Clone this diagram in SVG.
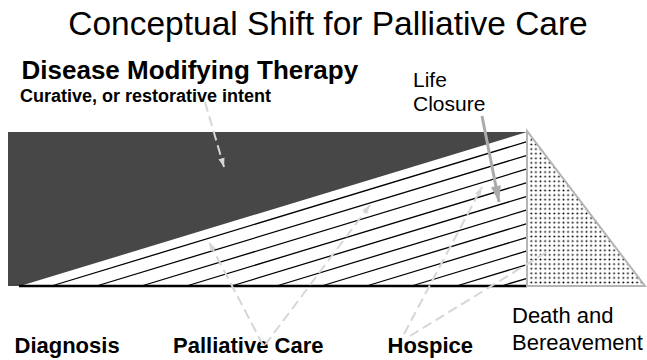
<svg xmlns="http://www.w3.org/2000/svg" width="647" height="360" viewBox="0 0 647 360">
  <style>
    .t { font-family: "Liberation Sans", Arial, sans-serif; fill: #000; }
    .b { font-weight: bold; }
    .hatch line { stroke: #000; stroke-width: 1.3; }
    .dash { fill: none; stroke: #d6d6d6; stroke-width: 2; stroke-dasharray: 10 5; }
  </style>
  <defs>
    <pattern id="dots" patternUnits="userSpaceOnUse" x="529" y="133" width="4.6" height="4.6">
      <circle cx="2.3" cy="2.3" r="0.95" fill="#000"/>
    </pattern>
    <marker id="ah" markerUnits="userSpaceOnUse" viewBox="0 0 10 7" refX="10" refY="3.5" markerWidth="9" markerHeight="7" orient="auto">
      <path d="M0,0 L10,3.5 L0,7 z" fill="#d6d6d6"/>
    </marker>
    <marker id="ahg" markerUnits="userSpaceOnUse" viewBox="0 0 16 10" refX="16" refY="5" markerWidth="17" markerHeight="10" orient="auto">
      <path d="M0,0 L16,5 L0,10 z" fill="#ababab"/>
    </marker>
  </defs>

  <rect width="647" height="360" fill="#fff"/>

  <g id="title">
    <text class="t" x="328" y="35" font-size="33.5" text-anchor="middle">Conceptual Shift for Palliative Care</text>
  </g>

  <g id="chart">
    <rect x="8" y="132" width="519" height="154" fill="#474747"/>
    <polygon points="20,286 527,132 527,286" fill="#fff"/>
    <g class="hatch">
      <line x1="51.5" y1="286" x2="527" y2="141.6"/>
      <line x1="96.5" y1="286" x2="527" y2="155.3"/>
      <line x1="141.5" y1="286" x2="527" y2="168.9"/>
      <line x1="186.5" y1="286" x2="527" y2="182.6"/>
      <line x1="231.5" y1="286" x2="527" y2="196.3"/>
      <line x1="276.5" y1="286" x2="527" y2="209.9"/>
      <line x1="321.5" y1="286" x2="527" y2="223.6"/>
      <line x1="366.5" y1="286" x2="527" y2="237.3"/>
      <line x1="411.5" y1="286" x2="527" y2="250.9"/>
      <line x1="456.5" y1="286" x2="527" y2="264.6"/>
      <line x1="501.5" y1="286" x2="527" y2="278.3"/>
    </g>
    <line x1="19" y1="286" x2="527" y2="286" stroke="#000" stroke-width="2.5"/>
    <polygon points="527,131 527,286 645,286" fill="url(#dots)"/>
    <polygon points="527,131 527,286 645,286" fill="none" stroke="#b5b5b5" stroke-width="2"/>
  </g>

  <g id="therapy">
    <text class="t b" x="21.5" y="79" font-size="26">Disease Modifying Therapy</text>
    <text class="t b" x="20" y="102" font-size="18">Curative, or restorative intent</text>
  </g>

  <g id="life-closure">
    <text class="t" x="413" y="87" font-size="21">Life</text>
    <text class="t" x="413" y="110.5" font-size="21">Closure</text>
  </g>

  <g id="diagnosis">
    <text class="t b" x="14.5" y="353" font-size="22">Diagnosis</text>
  </g>
  <g id="palliative-care">
    <text class="t b" x="173" y="353" font-size="22">Palliative Care</text>
  </g>
  <g id="hospice">
    <text class="t b" x="387.5" y="353" font-size="22">Hospice</text>
  </g>
  <g id="death">
    <text class="t" x="512" y="323" font-size="22">Death and</text>
    <text class="t" x="512" y="350" font-size="22">Bereavement</text>
  </g>

  <g id="connectors">
    <line class="dash" x1="205" y1="102" x2="224" y2="167" marker-end="url(#ah)"/>
    <line x1="482" y1="116" x2="499" y2="202" stroke="#ababab" stroke-width="3" marker-end="url(#ahg)"/>
    <line class="dash" x1="263" y1="345" x2="209" y2="242" marker-end="url(#ah)"/>
    <line class="dash" x1="265" y1="345" x2="370" y2="205" marker-end="url(#ah)"/>
    <line class="dash" x1="404" y1="334" x2="482" y2="187" marker-end="url(#ah)"/>
    <line class="dash" x1="410" y1="336" x2="550" y2="250"/>
  </g>
</svg>
